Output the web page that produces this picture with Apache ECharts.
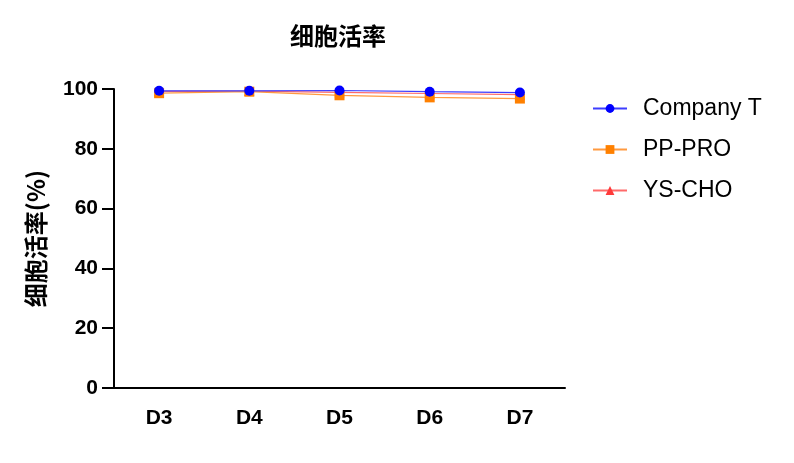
<!DOCTYPE html>
<html><head><meta charset="utf-8">
<script src="https://cdn.jsdelivr.net/npm/echarts@6/dist/echarts.min.js"></script>
<style>html,body{margin:0;padding:0;background:#fff}#c{width:794px;height:463px}</style>
</head><body><div id="c"></div>
<script>
const categories = ['D3','D4','D5','D6','D7'];
const companyT = [99.4, 99.4, 99.5, 99.1, 98.8];
const ppPro = [98.6, 99.1, 97.9, 97.2, 96.8];
const ysCho = [99.2, 99.3, 98.9, 98.5, 98.1];
const yTicks = [0, 20, 40, 60, 80, 100];

const chart = echarts.init(document.getElementById('c'));
const font = 'Liberation Sans, Arial, "Noto Sans CJK SC", sans-serif';
chart.setOption({
  animation: false,
  title: {text: '细胞活率', left: 333, top: 19, textAlign: 'center',
    textStyle: {fontFamily: '"Noto Sans CJK SC", sans-serif', fontSize: 24, fontWeight: 'bold', color: '#000'}},
  legend: {
    left: 587, top: 92, orient: 'vertical', itemWidth: 34, itemHeight: 11, itemGap: 18,
    data: ['Company T', 'PP-PRO', 'YS-CHO'],
    textStyle: {fontFamily: font, fontSize: 23, color: '#000', padding: [0,0,0,11]}
  },
  grid: {left: 114, right: 229, top: 89, bottom: 75},
  xAxis: {
    type: 'category', data: categories, boundaryGap: true,
    axisLine: {lineStyle: {color: '#000', width: 2}},
    axisTick: {alignWithLabel: true, length: 12, lineStyle: {color: '#000', width: 2}},
    axisLabel: {fontFamily: font, fontSize: 21, fontWeight: 'bold', color: '#000', margin: 20}
  },
  yAxis: {
    type: 'value', min: yTicks[0], max: yTicks[yTicks.length-1], interval: 20,
    name: '细胞活率(%)', nameLocation: 'middle', nameGap: 66, nameRotate: 90,
    nameTextStyle: {fontFamily: '"Noto Sans CJK SC", sans-serif', fontSize: 24, fontWeight: 'bold', color: '#000'},
    splitLine: {show: false},
    axisLine: {show: true, lineStyle: {color: '#000', width: 2}},
    axisTick: {show: true, length: 12, lineStyle: {color: '#000', width: 2}},
    axisLabel: {fontFamily: font, fontSize: 21, fontWeight: 'bold', color: '#000', margin: 16}
  },
  series: [
    {name: 'Company T', type: 'line', data: companyT, symbol: 'circle', symbolSize: 10, z: 5,
     itemStyle: {color: '#0000ff'}, lineStyle: {color: '#3d3dff', width: 1.2}},
    {name: 'PP-PRO', type: 'line', data: ppPro, symbol: 'rect', symbolSize: 10, z: 4,
     itemStyle: {color: '#ff8000'}, lineStyle: {color: '#ff9a40', width: 1.2}},
    {name: 'YS-CHO', type: 'line', data: ysCho, symbol: 'triangle', symbolSize: 10, z: 3,
     itemStyle: {color: '#ff3a3a'}, lineStyle: {color: '#ff6a6a', width: 1.2}}
  ]
});
</script></body></html>
